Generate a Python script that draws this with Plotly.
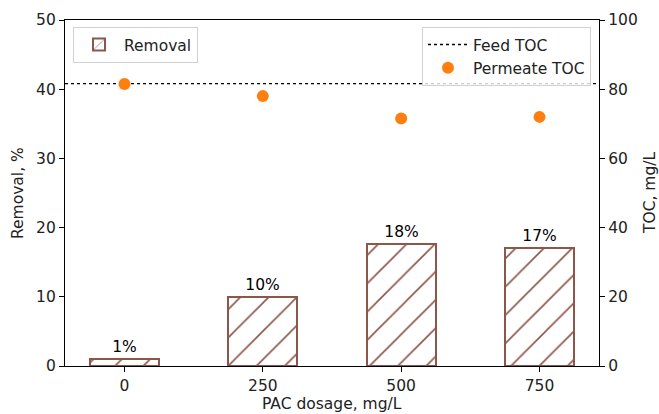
import plotly.graph_objects as go

dosage_labels = ["0", "250", "500", "750"]
removal_pct = [1.0, 10.0, 17.7, 17.0]
removal_text = ["1%", "10%", "18%", "17%"]
permeate_toc = [81.5, 78.0, 71.5, 72.0]
feed_toc = 81.6

xpos = list(range(len(dosage_labels)))
font_family = "DejaVu Sans"
brown = "#8c564b"
fs = 15.5

fig = go.Figure()
fig.add_trace(go.Bar(
    x=xpos, y=removal_pct, width=0.5, name="Removal", showlegend=True,
    text=removal_text, textposition="outside", cliponaxis=False,
    textfont=dict(size=fs, color="black", family=font_family),
    marker=dict(color="white", line=dict(color=brown, width=2),
                pattern=dict(shape="/", fgcolor=brown, bgcolor="white", fgopacity=1,
                             size=20, solidity=0.08)),
    legend="legend", yaxis="y",
))
fig.add_trace(go.Scatter(
    x=[-0.43, 3.43], y=[feed_toc, feed_toc], mode="lines", name="Feed TOC", showlegend=True,
    line=dict(color="black", width=1.3, dash="dot"), yaxis="y2", legend="legend2",
))
fig.add_trace(go.Scatter(
    x=xpos, y=permeate_toc, mode="markers", name="Permeate TOC", showlegend=True,
    marker=dict(color="#ff7f0e", size=12), yaxis="y2", legend="legend2",
))

axis_common = dict(showgrid=False, zeroline=False, showline=True, linecolor="black", linewidth=1.2,
                   ticks="outside", ticklen=5, tickcolor="black", automargin=False,
                   tickfont=dict(size=fs, color="#222", family=font_family))

ann_font = dict(size=fs, color="#222", family=font_family)
annotations = [
    dict(text="Removal, %", x=(18 - 65) / 534, y=0.5, xref="paper", yref="paper",
         textangle=-90, showarrow=False, xanchor="center", yanchor="middle", font=ann_font),
    dict(text="TOC, mg/L", x=(650 - 65) / 534, y=0.5, xref="paper", yref="paper",
         textangle=-90, showarrow=False, xanchor="center", yanchor="middle", font=ann_font),
    dict(text="PAC dosage, mg/L", x=0.5, y=(366 - 404) / 346, xref="paper", yref="paper",
         showarrow=False, xanchor="center", yanchor="middle", font=ann_font),
]

fig.update_layout(
    width=659, height=414,
    margin=dict(l=65, r=60, t=20, b=48, autoexpand=False),
    plot_bgcolor="white", paper_bgcolor="white",
    font=dict(family=font_family, size=fs, color="#222"),
    showlegend=True,
    bargap=0,
    annotations=annotations,
    xaxis=dict(range=[-0.43, 3.43], tickvals=xpos, ticktext=dosage_labels, mirror=True, **axis_common),
    yaxis=dict(range=[0, 50], tickvals=[0, 10, 20, 30, 40, 50], **axis_common),
    yaxis2=dict(range=[0, 100], tickvals=[0, 20, 40, 60, 80, 100], overlaying="y", side="right",
                **axis_common),
    legend=dict(x=0.015, y=0.98, xanchor="left", yanchor="top", bgcolor="rgba(255,255,255,0.8)",
                bordercolor="#d0d0d0", borderwidth=1, font=dict(size=fs), itemwidth=40),
    legend2=dict(x=0.985, y=0.98, xanchor="right", yanchor="top", bgcolor="rgba(255,255,255,0.8)",
                 bordercolor="#d0d0d0", borderwidth=1, font=dict(size=fs), itemwidth=40),
)

fig.write_html("out.html", config={"displayModeBar": False},
               post_script="document.body.style.margin='0';document.body.style.padding='0';")
